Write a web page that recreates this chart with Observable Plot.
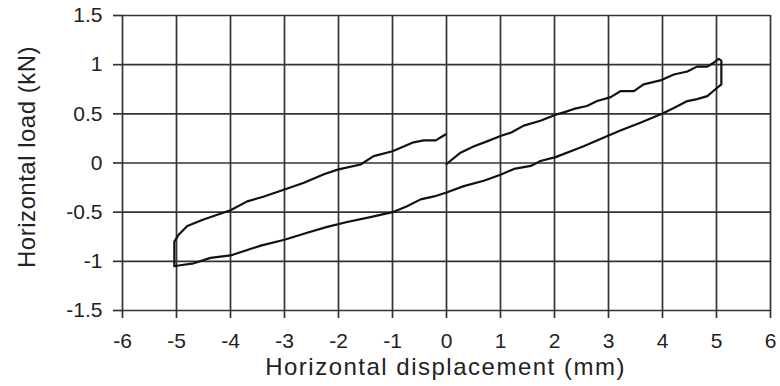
<!DOCTYPE html>
<html>
<head>
<meta charset="utf-8">
<script src="https://cdn.jsdelivr.net/npm/d3@7"></script>
<script src="https://cdn.jsdelivr.net/npm/@observablehq/plot@0.6"></script>
<style>
  html, body { margin: 0; padding: 0; background: #fff; }
  #chart svg { display: block; font-family: "Liberation Sans", Arial, sans-serif; }
</style>
</head>
<body>
<div id="chart"></div>
<script>
// Horizontal displacement (mm) along the hysteresis loop
const displacement = [
  0, 0.26, 0.51, 0.75, 1.0, 1.2, 1.43, 1.74, 2.02, 2.2, 2.36, 2.6, 2.79, 3.04, 3.22, 3.47, 3.65, 3.96, 4.21, 4.46, 4.64, 4.83, 4.95, 5.04, 5.09, 5.09,
  4.98, 4.83, 4.64, 4.46, 4.21, 3.99, 3.59, 3.22, 2.98, 2.54, 2.02, 1.74, 1.56, 1.25, 1.0, 0.69, 0.32, 0, -0.23, -0.48, -0.73, -1, -1.41, -1.84, -2.21, -2.58, -3, -3.44, -4, -4.37, -4.68, -4.93, -5.04,
  -5.04, -4.96, -4.8, -4.5, -4, -3.69, -3.38, -3, -2.64, -2.27, -2, -1.59, -1.35, -1, -0.61, -0.42, -0.2, -0.02
];
// Horizontal load (kN)
const load = [
  -0.01, 0.105, 0.17, 0.22, 0.275, 0.31, 0.38, 0.43, 0.49, 0.52, 0.55, 0.58, 0.63, 0.67, 0.73, 0.73, 0.8, 0.84, 0.9, 0.93, 0.98, 0.98, 1.02, 1.06, 1.04, 0.8,
  0.75, 0.68, 0.65, 0.63, 0.56, 0.5, 0.41, 0.33, 0.275, 0.17, 0.06, 0.02, -0.03, -0.06, -0.12, -0.18, -0.235, -0.3, -0.34, -0.37, -0.44, -0.5, -0.55, -0.6, -0.65, -0.71, -0.78, -0.84, -0.94, -0.965, -1.02, -1.04, -1.05,
  -0.8, -0.73, -0.64, -0.575, -0.48, -0.39, -0.34, -0.27, -0.2, -0.115, -0.065, -0.015, 0.07, 0.12, 0.21, 0.23, 0.23, 0.29
];
const xTicks = [-6, -5, -4, -3, -2, -1, 0, 1, 2, 3, 4, 5, 6];
const yTicks = [-1.5, -1, -0.5, 0, 0.5, 1, 1.5];
const xTitle = "Horizontal displacement (mm)";
const yTitle = "Horizontal load (kN)";

const data = displacement.map((d, i) => ({x: d, y: load[i]}));

const chart = Plot.plot({
  width: 780,
  height: 386,
  marginLeft: 122,
  marginRight: 10,
  marginTop: 15,
  marginBottom: 76,
  style: {background: "#fff", color: "#222", fontFamily: "Liberation Sans, Arial, sans-serif"},
  x: {domain: [-6, 6]},
  y: {domain: [-1.5, 1.5]},
  marks: [
    Plot.gridX(xTicks, {stroke: "#333", strokeOpacity: 1, strokeWidth: 1.7}),
    Plot.gridY(yTicks, {stroke: "#333", strokeOpacity: 1, strokeWidth: 1.7}),
    Plot.axisX({ticks: xTicks, tickSize: 8, tickPadding: 15, fontSize: 21, label: null, stroke: "#333", strokeWidth: 1.7, tickFormat: d => String(d)}),
    Plot.axisY({ticks: yTicks, tickSize: 9, tickPadding: 11, fontSize: 21, label: null, stroke: "#333", strokeWidth: 1.7, tickFormat: d => String(d)}),
    Plot.line(data, {x: "x", y: "y", stroke: "#111", strokeWidth: 2.2, curve: "linear"}),
    Plot.text([xTitle], {frameAnchor: "bottom", textAnchor: "middle", dx: -1, dy: 64, fontSize: 24, fill: "#222", text: d => d}),
    Plot.text([yTitle], {frameAnchor: "left", textAnchor: "middle", rotate: -90, dx: -95, dy: -6, fontSize: 24, fill: "#222", text: d => d})
  ]
});

const svg = d3.select(chart);
svg.selectAll('g[aria-label$="tick label"]').attr("font-size", 21).style("font-size", "21px")
  .selectAll("text").attr("font-size", null);
const sel = svg.selectAll("text");
sel.filter(function() { return this.textContent === xTitle; }).attr("letter-spacing", "1.5px");
sel.filter(function() { return this.textContent === yTitle; }).attr("letter-spacing", "0.5px");

document.getElementById("chart").appendChild(chart);
</script>
</body>
</html>
